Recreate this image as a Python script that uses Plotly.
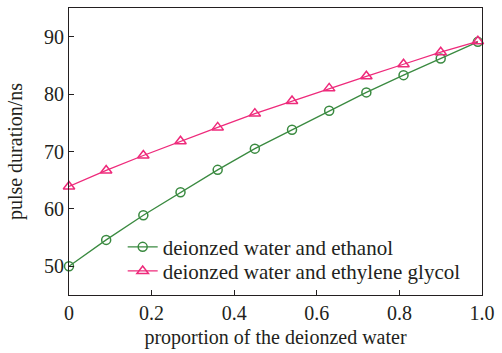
import plotly.graph_objects as go

proportion = [0, 0.09, 0.18, 0.27, 0.36, 0.45, 0.54, 0.63, 0.72, 0.81, 0.90, 0.99]
ethanol = [50.0, 54.6, 58.9, 62.9, 66.8, 70.5, 73.8, 77.1, 80.3, 83.3, 86.2, 89.1]
glycol = [63.9, 66.7, 69.3, 71.8, 74.2, 76.6, 78.8, 81.0, 83.1, 85.2, 87.3, 89.2]

x_ticks = [0, 0.2, 0.4, 0.6, 0.8, 1.0]
x_ticktext = ["0", "0.2", "0.4", "0.6", "0.8", "1.0"]
y_ticks = [50, 60, 70, 80, 90]

FONT = "Liberation Serif, Times New Roman, serif"
TXT = "#231f20"

fig = go.Figure()
fig.add_trace(go.Scatter(
    x=proportion, y=ethanol, mode="lines+markers",
    name="deionzed water and ethanol", legend="legend", showlegend=True,
    line=dict(color="#3a8a40", width=1.3),
    marker=dict(symbol="circle-open", size=9, color="#3a8a40", line=dict(width=1.5)),
    cliponaxis=False,
))
fig.add_trace(go.Scatter(
    x=proportion, y=glycol, mode="lines+markers",
    name="deionzed water and ethylene glycol", legend="legend2", showlegend=True,
    line=dict(color="#ee2a7b", width=1.3),
    marker=dict(symbol="triangle-up-open", size=10, color="#ee2a7b", line=dict(width=1.5)),
    cliponaxis=False,
))

axis_common = dict(
    showline=True, linecolor="#231f20", linewidth=1.2, mirror=True,
    ticks="inside", ticklen=5, tickcolor="#231f20", tickwidth=1,
    showgrid=False, zeroline=False,
    tickfont=dict(family=FONT, size=20, color=TXT),
)

leg_common = dict(xanchor="left", yanchor="top", bgcolor="rgba(0,0,0,0)",
                  itemwidth=30, font=dict(family=FONT, size=21, color=TXT))

fig.update_layout(
    width=502, height=353,
    margin=dict(l=69, r=20, t=8, b=58),
    paper_bgcolor="white", plot_bgcolor="white",
    showlegend=True,
    font=dict(family=FONT, size=20, color=TXT),
    xaxis=dict(range=[0, 1], tickvals=x_ticks, ticktext=x_ticktext,
               title=dict(text="proportion of the deionzed water", font=dict(family=FONT, size=20), standoff=6),
               **axis_common),
    yaxis=dict(range=[45, 95], tickvals=y_ticks,
               title=dict(text="pulse duration/ns", font=dict(family=FONT, size=20), standoff=15),
               **axis_common),
    legend=dict(x=0.13, y=0.238, **leg_common),
    legend2=dict(x=0.13, y=0.154, **leg_common),
)

fig.write_html("out.html")
